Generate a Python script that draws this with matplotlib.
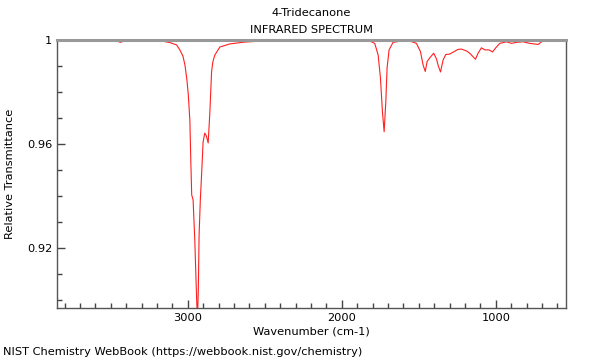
import matplotlib
matplotlib.use('Agg')
import matplotlib.pyplot as plt
from matplotlib.ticker import MultipleLocator, FuncFormatter

# Spectrum (wavenumber in cm-1, relative transmittance)
wavenumber = [3851, 3701, 3506, 3468, 3438, 3409, 3312, 3214, 3169, 3117,
              3073, 3052, 3032, 3019, 3006, 2997, 2987, 2981, 2975, 2966,
              2955, 2945, 2938, 2932, 2927, 2919, 2911, 2901, 2890, 2880,
              2868, 2857, 2846, 2838, 2825, 2792, 2727, 2630, 2468, 2273,
              2013, 1883, 1818, 1786, 1764, 1749, 1736, 1725, 1714, 1706,
              1693, 1667, 1602, 1558, 1515, 1489, 1472, 1458, 1446, 1428,
              1403, 1385, 1373, 1359, 1342, 1325, 1299, 1277, 1245, 1223,
              1190, 1169, 1132, 1115, 1093, 1071, 1044, 1021, 1000, 974,
              930, 898, 866, 823, 779, 725, 697, 682, 628, 584, 552]
transmittance = [1.0, 0.9999, 0.9999, 0.9998, 0.9991, 0.9997, 0.9999, 0.9998, 0.9996, 0.9990,
                 0.9981, 0.9962, 0.9938, 0.9904, 0.9846, 0.9788, 0.9692, 0.9538, 0.9404, 0.9385,
                 0.9231, 0.904, 0.892, 0.904, 0.925, 0.9385, 0.948, 0.9608, 0.9642, 0.9631,
                 0.9604, 0.9723, 0.9877, 0.9915, 0.9942, 0.9973, 0.9985, 0.9992, 0.9998, 0.9999,
                 0.9999, 0.9998, 0.9996, 0.9987, 0.9942, 0.9854, 0.9723, 0.9647, 0.9763, 0.9892,
                 0.9962, 0.9991, 0.9997, 0.9996, 0.9987, 0.9955, 0.9904, 0.9879, 0.9917, 0.9932,
                 0.9949, 0.9927, 0.990, 0.9877, 0.9923, 0.9944, 0.9946, 0.9953, 0.9964, 0.9965,
                 0.9958, 0.9949, 0.9926, 0.9949, 0.9970, 0.9962, 0.9962, 0.9954, 0.9970, 0.9987,
                 0.9993, 0.9987, 0.9991, 0.9993, 0.9987, 0.9983, 0.9995, 0.9997, 0.9996, 0.9999, 0.9996]

compound = '4-Tridecanone'

plt.rcParams.update({'font.size': 8.2, 'font.family': 'DejaVu Sans'})
fig = plt.figure(figsize=(6, 3.6), dpi=100)
ax = fig.add_axes([0.095, 0.1444, 0.848, 0.7445])

ax.plot(wavenumber, transmittance, color='#ff2020', linewidth=0.8)

ax.set_xlim(3850, 545)
ax.set_ylim(0.8969, 1.0)

ax.xaxis.set_major_locator(MultipleLocator(1000))
ax.xaxis.set_minor_locator(MultipleLocator(100))
ax.yaxis.set_major_locator(MultipleLocator(0.04))
ax.yaxis.set_minor_locator(MultipleLocator(0.01))
ax.yaxis.set_major_formatter(FuncFormatter(lambda v, p: '%g' % round(v, 4)))
ax.xaxis.set_major_formatter(FuncFormatter(lambda v, p: '%d' % v))

ax.tick_params(which='both', direction='in', colors='#444444', labelcolor='black')
ax.tick_params(which='major', length=6, width=1)
ax.tick_params(which='minor', length=3.5, width=1)

for side in ['left', 'bottom', 'right']:
    ax.spines[side].set_color('#555555')
    ax.spines[side].set_linewidth(1)
ax.spines['top'].set_color('#999999')
ax.spines['top'].set_linewidth(2.2)

fig.text(0.519, 0.964, compound, ha='center', va='center')
fig.text(0.519, 0.917, 'INFRARED SPECTRUM', ha='center', va='center')
fig.text(0.519, 0.078, 'Wavenumber (cm-1)', ha='center', va='center')
fig.text(0.0167, 0.517, 'Relative Transmittance', rotation=90, ha='center', va='center')
fig.text(0.005, 0.022, 'NIST Chemistry WebBook (https://webbook.nist.gov/chemistry)',
         ha='left', va='center')

fig.savefig('out.png', dpi=100)
